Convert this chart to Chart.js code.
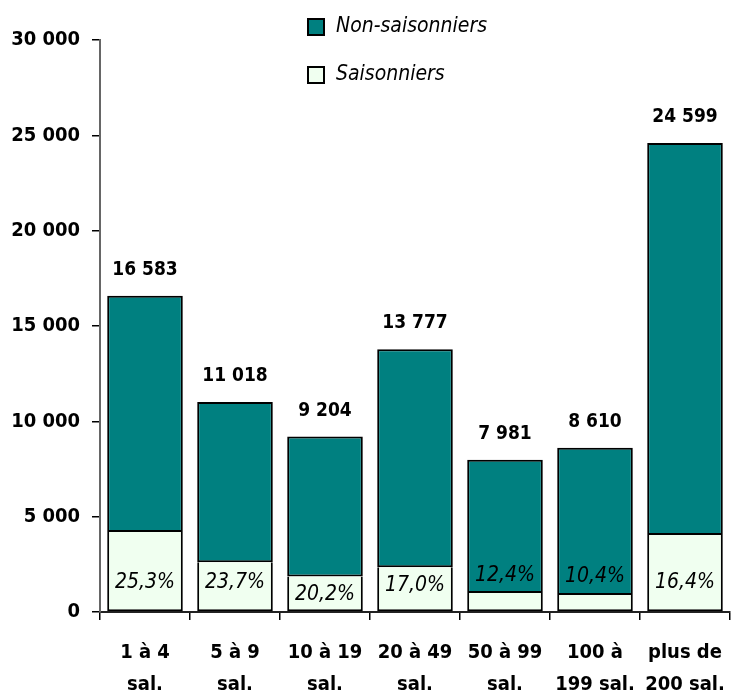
<!DOCTYPE html>
<html>
<head>
<meta charset="utf-8">
<script src="https://cdn.jsdelivr.net/npm/chart.js@4/dist/chart.umd.min.js"></script>
<style>
  html, body { margin: 0; padding: 0; background: #fff; }
  #wrap { width: 731px; height: 696px; }
</style>
</head>
<body>
<div id="wrap"><canvas id="chart"></canvas></div>
<script>
// catégories de taille d'établissement
const categories = [['1 à 4', 'sal.'], ['5 à 9', 'sal.'], ['10 à 19', 'sal.'], ['20 à 49', 'sal.'],
                    ['50 à 99', 'sal.'], ['100 à', '199 sal.'], ['plus de', '200 sal.']];
const seasonal = [4195, 2611, 1859, 2342, 990, 895, 4034];
const nonSeasonal = [12388, 8407, 7345, 11435, 6991, 7715, 20565];
const seasonalShare = ['25,3%', '23,7%', '20,2%', '17,0%', '12,4%', '10,4%', '16,4%'];
const yTicks = [0, 5000, 10000, 15000, 20000, 25000, 30000];

const FONT = '"Liberation Sans Narrow", "Arial Narrow", "DejaVu Sans Condensed", sans-serif';
const fmt = n => String(n).replace(/\B(?=(\d{3})+(?!\d))/g, ' ');

// totaux au-dessus des barres + pourcentages saisonniers + légende
const labelsPlugin = {
    id: 'labels',
    afterDatasetsDraw(chart) {
        const c = chart.ctx;
        const y = chart.scales.y;
        const metaS = chart.getDatasetMeta(0);
        const metaN = chart.getDatasetMeta(1);
        c.save();
        c.fillStyle = '#000';
        c.textAlign = 'center';

        c.font = 'bold 19px ' + FONT;
        c.textBaseline = 'alphabetic';
        metaN.data.forEach((bar, i) => {
            c.fillText(fmt(seasonal[i] + nonSeasonal[i]), bar.x, bar.y - 21);
        });

        c.font = 'italic 21px ' + FONT;
        c.textBaseline = 'middle';
        metaS.data.forEach((bar, i) => {
            const h = bar.base - bar.y;
            let ly;
            if (h < 25) ly = bar.y - 18;
            else ly = Math.max(bar.y + 18, y.getPixelForValue(0) - 29);
            c.fillText(seasonalShare[i], bar.x, ly);
        });

        // légende
        const items = [['Non-saisonniers', '#008080', 27], ['Saisonniers', '#F0FFF0', 75]];
        c.textAlign = 'left';
        c.font = 'italic 21px ' + FONT;
        items.forEach(([txt, col, cy]) => {
            c.fillStyle = col;
            c.fillRect(308, cy - 8, 16, 16);
            c.strokeStyle = '#000';
            c.lineWidth = 2;
            c.strokeRect(308, cy - 8, 16, 16);
            c.fillStyle = '#000';
            c.fillText(txt, 336, cy);
        });
        c.restore();
    }
};

new Chart(document.getElementById('chart'), {
    type: 'bar',
    data: {
        labels: categories,
        datasets: [
            { label: 'Saisonniers', data: seasonal, backgroundColor: '#F0FFF0',
              borderColor: '#000', borderWidth: { top: 0, left: 2, right: 2, bottom: 2 }, borderSkipped: false },
            { label: 'Non-saisonniers', data: nonSeasonal, backgroundColor: '#008080',
              borderColor: '#000', borderWidth: 2, borderSkipped: false }
        ]
    },
    options: {
        responsive: true,
        maintainAspectRatio: false,
        animation: false,
        layout: { padding: { top: 40, right: 1, left: 0, bottom: 0 } },
        plugins: { legend: { display: false }, tooltip: { enabled: false } },
        datasets: { bar: { categoryPercentage: 0.84, barPercentage: 1 } },
        scales: {
            x: {
                stacked: true,
                afterFit: s => { s.height = 84; s.paddingLeft = 0; s.paddingRight = 0; },
                grid: { offset: true, drawOnChartArea: false, color: '#000', tickLength: 8, lineWidth: 1.5 },
                border: { color: '#222', width: 2 },
                ticks: { color: '#000', font: { family: FONT, size: 20, weight: 'bold', lineHeight: '32px' },
                         maxRotation: 0, padding: 17 }
            },
            y: {
                stacked: true,
                min: 0, max: 30000,
                afterBuildTicks: s => { s.ticks = yTicks.map(v => ({ value: v })); },
                afterFit: s => { s.width = 100; },
                grid: { drawOnChartArea: false, color: '#000', tickLength: 8, lineWidth: 1.5 },
                border: { color: '#666', width: 2 },
                ticks: { color: '#000', font: { family: FONT, size: 20, weight: 'bold' },
                         padding: 12, callback: v => fmt(v) }
            }
        }
    },
    plugins: [labelsPlugin]
});
</script>
</body>
</html>
